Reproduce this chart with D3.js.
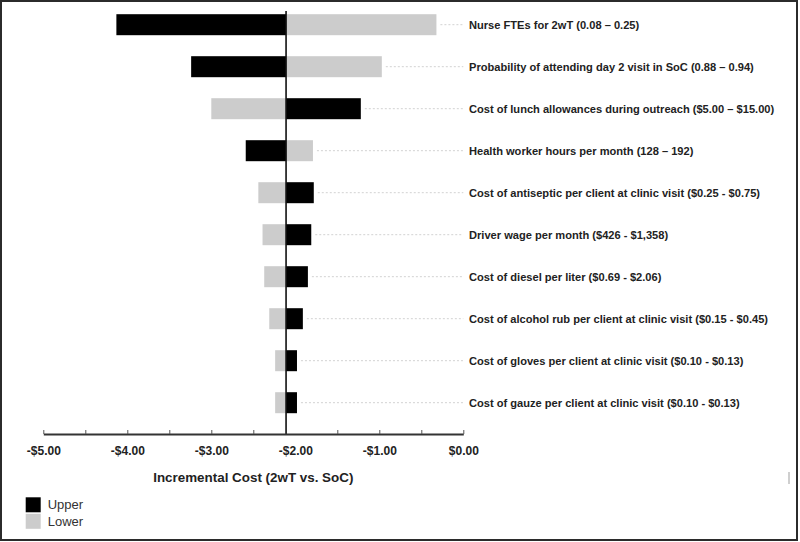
<!DOCTYPE html>
<html>
<head>
<meta charset="utf-8">
<script src="https://cdn.jsdelivr.net/npm/d3@7"></script>
<style>
  html, body { margin: 0; padding: 0; background: #fff; }
  svg { display: block; font-family: "Liberation Sans", Arial, sans-serif; }
</style>
</head>
<body>
<svg id="chart" width="800" height="542"></svg>
<script>
const categories = [
  "Nurse FTEs for 2wT (0.08 \u2013 0.25)",
  "Probability of attending day 2 visit in SoC (0.88 \u2013 0.94)",
  "Cost of lunch allowances during outreach ($5.00 \u2013 $15.00)",
  "Health worker hours per month (128 \u2013 192)",
  "Cost of antiseptic per client at clinic visit ($0.25 - $0.75)",
  "Driver wage per month ($426 - $1,358)",
  "Cost of diesel per liter ($0.69 - $2.06)",
  "Cost of alcohol rub per client at clinic visit ($0.15 - $0.45)",
  "Cost of gloves per client at clinic visit ($0.10 - $0.13)",
  "Cost of gauze per client at clinic visit ($0.10 - $0.13)"
];
const upperValues = [-4.13, -3.24, -1.22, -2.59, -1.78, -1.81, -1.85, -1.91, -1.98, -1.98];
const lowerValues = [-0.32, -0.97, -3.00, -1.79, -2.44, -2.39, -2.37, -2.31, -2.24, -2.24];
const baseValue = -2.11;
const majorTicks = [-5, -4, -3, -2, -1, 0];
const tickLabels = ["-$5.00", "-$4.00", "-$3.00", "-$2.00", "-$1.00", "$0.00"];
const minorTicks = [-5, -4.5, -4, -3.5, -3, -2.5, -1.5, -1, -0.5, 0];
const seriesNames = ["Upper", "Lower"];
const seriesColors = ["#000000", "#cccccc"];
const axisTitle = "Incremental Cost (2wT vs. SoC)";

const svg = d3.select("#chart");

// outer frame
svg.append("rect").attr("x", 1).attr("y", 1).attr("width", 796).attr("height", 539)
  .attr("fill", "none").attr("stroke", "#2b2b2b").attr("stroke-width", 2);
// small artifact mark at right edge
svg.append("rect").attr("x", 788).attr("y", 472).attr("width", 2).attr("height", 12).attr("fill", "#cfcfcf");

const x = d3.scaleLinear().domain([-5, 0]).range([43.3, 463.3]);
const y = d3.scaleBand().domain(categories).range([3.7, 423.7]).paddingInner(0.5).paddingOuter(0.25);
const axisY = 434;

const rows = categories.map((c, i) => ({ c, up: upperValues[i], lo: lowerValues[i] }));

// dotted leader lines
svg.append("g").selectAll("line").data(rows).join("line")
  .attr("x1", d => x(Math.max(d.up, d.lo, baseValue)) + 4)
  .attr("x2", x(0))
  .attr("y1", d => y(d.c) + y.bandwidth() / 2)
  .attr("y2", d => y(d.c) + y.bandwidth() / 2)
  .attr("stroke", "#d2d2d2").attr("stroke-width", 1).attr("stroke-dasharray", "2,2");

// bars
const series = [upperValues, lowerValues];
series.forEach((vals, si) => {
  svg.append("g").selectAll("rect").data(categories).join("rect")
    .attr("x", (c, i) => x(Math.min(vals[i], baseValue)))
    .attr("width", (c, i) => Math.abs(x(vals[i]) - x(baseValue)))
    .attr("y", c => y(c))
    .attr("height", y.bandwidth())
    .attr("fill", seriesColors[si]);
});

// center line
svg.append("line").attr("x1", x(baseValue)).attr("x2", x(baseValue))
  .attr("y1", 11).attr("y2", axisY).attr("stroke", "#111").attr("stroke-width", 1.6);

// minor ticks axis (ticks pointing up)
const gMinor = svg.append("g").attr("transform", `translate(0,${axisY})`)
  .call(d3.axisBottom(x).tickValues(minorTicks).tickSize(-4).tickSizeOuter(0).tickFormat(""));
gMinor.select(".domain").attr("stroke", "#333").attr("stroke-width", 2);
gMinor.selectAll(".tick line").attr("stroke", "#555").attr("stroke-width", 1);

// labels axis
const gMajor = svg.append("g").attr("transform", `translate(0,${axisY})`)
  .call(d3.axisBottom(x).tickValues(majorTicks).tickSize(0).tickPadding(12)
    .tickFormat((d, i) => tickLabels[i]));
gMajor.select(".domain").remove();
gMajor.selectAll(".tick text").attr("font-family", "Liberation Sans, Arial, sans-serif")
  .attr("font-size", 12).attr("font-weight", "bold").attr("fill", "#222");

// axis title
svg.append("text").attr("x", (x(-5) + x(0)) / 2).attr("y", 482)
  .attr("text-anchor", "middle").attr("font-size", 13.4).attr("font-weight", "bold").attr("fill", "#222")
  .text(axisTitle);

// category labels
svg.append("g").selectAll("text").data(categories).join("text")
  .attr("x", 469).attr("y", c => y(c) + y.bandwidth() / 2).attr("dy", "0.35em")
  .attr("font-size", 11.1).attr("font-weight", "bold").attr("fill", "#222")
  .text(c => c);

// legend
const lg = svg.append("g").attr("transform", "translate(25.7,497.3)");
seriesNames.forEach((n, i) => {
  lg.append("rect").attr("x", 0).attr("y", i * 16.5).attr("width", 15).attr("height", 15).attr("fill", seriesColors[i]);
  lg.append("text").attr("x", 22).attr("y", i * 16.5 + 7.5).attr("dy", "0.35em")
    .attr("font-size", 13).attr("fill", "#333").text(n);
});
</script>
</body>
</html>
